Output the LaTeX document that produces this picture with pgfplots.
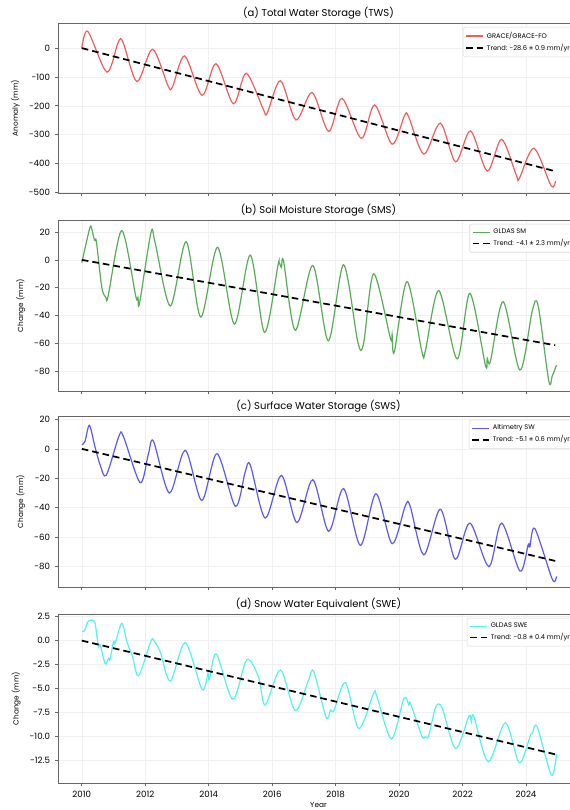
\documentclass[border=0pt]{standalone}
\usepackage{fontspec}
\setmainfont{Poppins}
\usepackage{pgfplots}
\pgfplotsset{compat=1.18}

\definecolor{twsred}{HTML}{F25C5C}
\definecolor{smsgreen}{HTML}{55AD55}
\definecolor{swsblue}{HTML}{5A5AF2}
\definecolor{swecyan}{HTML}{55F0F0}

\pgfplotsset{
  panel/.style={
    scale only axis, width=390.75pt,
    anchor=south west,
    xmin=2009.25, xmax=2025.67,
    xtick={2010,2012,...,2024},
    tick pos=left, tick align=outside,
    major tick length=2.5pt,
    tick style={gray!80!black, line width=0.5pt},
    axis line style={gray!80!black, line width=0.7pt},
    grid=major, major grid style={gray!12, line width=0.4pt},
    ticklabel style={font=\fontsize{6.5}{7}\selectfont},
    /pgf/number format/assume math mode=true,
    ylabel style={font=\fontsize{5.5}{6}\selectfont},
    xlabel style={font=\fontsize{5.5}{6}\selectfont, yshift=3pt},
    every axis title shift=0pt,
    title style={font=\fontsize{7.5}{9}\selectfont, at={(0.5,1)}, anchor=south, yshift=-0.5pt},
    legend style={at={(0.992,0.977)}, anchor=north east,
      font=\fontsize{5}{6}\selectfont, draw=gray!30, rounded corners=1pt,
      fill=white, row sep=-1.2pt, inner sep=1.5pt},
    legend cell align=left,
  },
  data/.style={line width=0.9pt, smooth, tension=0.5},
  trend/.style={black, line width=1.3pt, dash pattern=on 5pt off 3pt},
}
\pgfplotsset{legend image code/.code={\draw[#1] (0pt,0pt) -- (13pt,0pt);}}

\begin{document}
\begin{tikzpicture}

% (a) TWS
\begin{axis}[panel, at={(43.5pt,462.75pt)}, height=127.5pt,
  ymin=-502, ymax=87, ytick={-500,-400,...,0},
  xticklabels={}, ylabel={Anomaly (mm)},
  title={(a) Total Water Storage (TWS)}]
\addplot[data, twsred] coordinates {
(2010.00,0) (2010.19,58) (2010.79,-83) (2011.15,21) (2011.30,20) (2011.74,-116)
(2012.23,-4) (2012.72,-131) (2012.86,-134) (2013.24,-27) (2013.79,-164)
(2014.23,-54) (2014.78,-193) (2015.18,-87) (2015.72,-212) (2015.84,-226)
(2016.26,-113) (2016.75,-249) (2017.26,-154) (2017.78,-289) (2018.20,-174)
(2018.81,-313) (2019.23,-197) (2019.78,-333) (2020.17,-234) (2020.30,-238)
(2020.78,-367) (2021.30,-260) (2021.78,-394) (2022.25,-287) (2022.78,-426)
(2023.23,-316) (2023.70,-442) (2023.79,-451) (2024.25,-347) (2024.79,-477)
(2024.93,-461)
};
\addlegendentry{GRACE/GRACE-FO}
\addplot[trend] coordinates {(2010.00,0) (2024.92,-426.7)};
\addlegendentry{Trend: -28.6 ± 0.9 mm/yr}
\end{axis}

% (b) SMS
\begin{axis}[panel, at={(43.5pt,314.25pt)}, height=128.25pt,
  ymin=-94, ymax=28.6, ytick={-80,-60,...,20},
  xticklabels={}, ylabel={Change (mm)},
  title={(b) Soil Moisture Storage (SMS)}]
\addplot[data, smsgreen] coordinates {
(2010.00,-2) (2010.25,22.6) (2010.31,22.5) (2010.40,14) (2010.46,13)
(2010.63,-19.7) (2010.76,-27) (2010.83,-26) (2011.26,21) (2011.70,-26)
(2011.77,-27) (2011.82,-31) (2012.18,19.5) (2012.31,12.4) (2012.79,-33)
(2013.29,13) (2013.75,-41) (2014.28,9) (2014.81,-46) (2015.31,3.4)
(2015.76,-52) (2016.18,-4.2) (2016.22,-1.9) (2016.29,-5.4) (2016.36,-1.1)
(2016.73,-50.5) (2017.28,-4) (2017.77,-58) (2018.25,-3.5) (2018.70,-59)
(2018.88,-60) (2019.20,-10) (2019.73,-56.5) (2019.78,-53.6) (2019.85,-66)
(2020.25,-15.6) (2020.72,-66) (2020.83,-65) (2021.25,-22) (2021.83,-71)
(2022.23,-24) (2022.72,-75.5) (2022.78,-70.7) (2022.88,-72.6) (2023.28,-30)
(2023.81,-79) (2024.20,-36.3) (2024.38,-32.7) (2024.72,-87) (2024.83,-83)
(2024.96,-75.5)
};
\addlegendentry{GLDAS SM}
\addplot[trend] coordinates {(2010.00,0) (2024.92,-61.2)};
\addlegendentry{Trend: -4.1 ± 2.3 mm/yr}
\end{axis}

% (c) SWS
\begin{axis}[panel, at={(43.5pt,167.25pt)}, height=128.25pt,
  ymin=-93.8, ymax=22.3, ytick={-80,-60,...,20},
  xticklabels={}, ylabel={Change (mm)},
  title={(c) Surface Water Storage (SWS)}]
\addplot[data, swsblue] coordinates {
(2010.00,2.8) (2010.10,5) (2010.24,16) (2010.42,1) (2010.58,-11)
(2010.77,-18) (2011.17,8.5) (2011.31,8.5) (2011.84,-23) (2012.10,-3.3)
(2012.26,5.1) (2012.76,-30) (2013.26,-1) (2013.78,-35) (2014.26,-3.3)
(2014.84,-39) (2015.15,-15.7) (2015.31,-11) (2015.78,-47) (2016.29,-18)
(2016.78,-50) (2017.28,-21) (2017.78,-56) (2018.25,-27) (2018.78,-65.5)
(2019.27,-30.5) (2019.78,-64.4) (2020.20,-38.4) (2020.35,-39) (2020.78,-72)
(2021.30,-41) (2021.77,-75) (2022.23,-50.4) (2022.83,-80) (2023.23,-50.4)
(2023.81,-83) (2024.07,-65) (2024.12,-66.6) (2024.28,-54.2) (2024.83,-88.6)
(2024.96,-86.6)
};
\addlegendentry{Altimetry SW}
\addplot[trend] coordinates {(2010.00,0) (2024.92,-76.1)};
\addlegendentry{Trend: -5.1 ± 0.6 mm/yr}
\end{axis}

% (d) SWE
\begin{axis}[panel, at={(43.5pt,20.25pt)}, height=126.75pt,
  ymin=-14.9, ymax=2.78, ytick={-12.5,-10,...,2.5},
  yticklabel style={/pgf/number format/.cd, fixed, fixed zerofill, precision=1},
  xticklabel style={/pgf/number format/1000 sep={}},
  ylabel={Change (mm)}, xlabel={Year},
  title={(d) Snow Water Equivalent (SWE)}]
\addplot[data, swecyan] coordinates {
(2010.00,1.0) (2010.08,1.0) (2010.21,2.05) (2010.40,2.0) (2010.47,0.6)
(2010.53,-0.7) (2010.58,-0.46) (2010.74,-2.45) (2010.84,-1.86) (2010.89,-1.96)
(2011.00,-0.1) (2011.05,-0.3) (2011.26,1.8) (2011.42,-0.1) (2011.60,-1.7)
(2011.79,-3.67) (2012.18,-0.05) (2012.28,-0.05) (2012.47,-1.16) (2012.79,-4.23)
(2013.26,-0.22) (2013.79,-5.1) (2013.98,-3.4) (2014.02,-4.1) (2014.24,-1.4)
(2014.76,-6.15) (2015.20,-2.0) (2015.57,-3.8) (2015.78,-6.74) (2016.26,-3.08)
(2016.73,-7.34) (2017.15,-4.1) (2017.31,-3.25) (2017.70,-8.03) (2017.84,-7.27)
(2017.95,-7.3) (2018.31,-4.4) (2018.73,-9.2) (2019.20,-5.5) (2019.30,-5.85)
(2019.76,-10.3) (2020.15,-6.05) (2020.31,-6.75) (2020.36,-6.6) (2020.72,-10.0)
(2020.82,-10.06) (2020.93,-10.0) (2021.15,-7.0) (2021.35,-7.0) (2021.78,-11.3)
(2022.20,-7.9) (2022.28,-8.5) (2022.35,-7.9) (2022.81,-12.67) (2023.35,-8.6)
(2023.79,-12.78) (2024.14,-9.9) (2024.20,-9.7) (2024.35,-9.0) (2024.80,-14.07)
(2024.96,-11.87)
};
\addlegendentry{GLDAS SWE}
\addplot[trend] coordinates {(2010.00,0) (2024.92,-11.9)};
\addlegendentry{Trend: -0.8 ± 0.4 mm/yr}
\end{axis}

\pgfresetboundingbox
\path[use as bounding box] (0pt,0pt) rectangle (426.75pt,607.5pt);
\end{tikzpicture}
\end{document}
